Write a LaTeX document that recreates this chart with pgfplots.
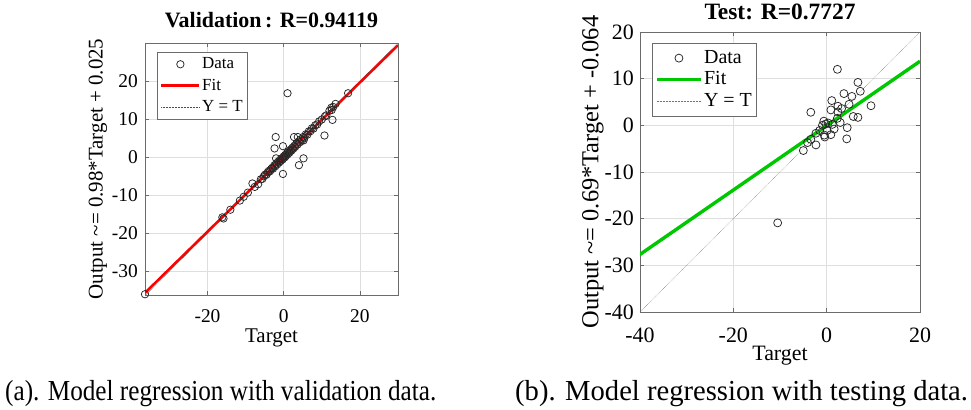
\documentclass[border=0pt]{standalone}
\usepackage{fontspec}
\setmainfont{Liberation Serif}
\usepackage{pgfplots}
\pgfplotsset{compat=1.18}

\definecolor{fitred}{rgb}{1,0,0}
\definecolor{fitgreen}{RGB}{0,200,0}
\definecolor{framegray}{gray}{0.42}

\pgfplotsset{
  regbox/.style={
    scale only axis,
    tick align=inside,
    major tick length=4bp,
    axis line style={framegray, line width=0.6bp},
    every tick/.style={framegray, line width=0.6bp},
    grid=major,
    grid style={black!13, line width=0.5bp},
    /pgf/number format/assume math mode=true,
    legend cell align=left,
    xticklabel style={anchor=base, inner sep=0pt},
    yticklabel style={anchor=east, inner sep=0pt},
  },
  markleg/.style={legend image code/.code={\draw[##1] plot coordinates {(#1,0bp)};}},
  lineleg/.style={legend image code/.code={\draw[##1] (0bp,0bp) -- (#1,0bp);}},
  datamarks/.style={only marks, mark=o, mark size=#1, mark options={line width=0.75bp, black!85}},
}

\begin{document}
\begin{tikzpicture}
\useasboundingbox (0,0) rectangle (971bp,410bp);

% (a) validation
\begin{axis}[regbox,
  at={(145bp,115bp)}, anchor=south west,
  width=253bp, height=252bp,
  xmin=-36.4, xmax=30, ymin=-36.2, ymax=30,
  xtick={-20,0,20}, ytick={-30,-20,-10,0,10,20},
  tick label style={font=\fontsize{19.5}{22}\selectfont},
  xticklabel style={yshift=-27bp},
  yticklabel style={xshift=-7bp},
  title={Validation\,: R=0.94119},
  title style={font=\bfseries\fontsize{22}{26}\selectfont, at={(0.5,1)}, anchor=base, yshift=10bp},
  xlabel={Target},
  xlabel style={font=\fontsize{21}{25}\selectfont, at={(axis description cs:0.5,-0.17)}, anchor=center},
  ylabel={Output \textasciitilde= 0.98*Target + 0.025},
  ylabel style={font=\fontsize{21}{25}\selectfont, at={(axis description cs:-0.186,0.5)}, anchor=center, rotate=0},
  legend style={at={(0.047,0.964)}, anchor=north west, draw=framegray, fill=white,
    font=\fontsize{17}{19}\selectfont, inner xsep=3bp, inner ysep=3bp,
    row sep=3.5bp, nodes={inner sep=1.5bp, text height=12bp, text depth=3bp}},
]
\addplot[datamarks=3.7bp, markleg=19bp] coordinates {
(-36.4,-36.0) (-16.1,-15.8) (-15.8,-16.1) (-14.0,-13.8) (-11.5,-11.4) (-10.5,-10.4)
(-9.4,-9.3) (-8.2,-6.9) (-7.6,-7.8) (-6.7,-7.1)
(-6.0,-5.8) (-5.6,-5.7) (-5.2,-5.0) (-4.9,-4.6) (-4.5,-4.6) (-4.2,-4.0) (-3.9,-3.6)
(-3.6,-3.7) (-3.3,-3.1) (-3.0,-2.8) (-2.8,-3.0) (-2.5,-2.2) (-2.2,-2.4) (-2.0,-1.7)
(-1.7,-1.9) (-1.5,-1.2) (-1.2,-1.4) (-1.0,-0.7) (-0.8,-1.0) (-0.5,-0.3) (-0.3,-0.6)
(0.0,0.2) (0.2,-0.1) (0.4,0.6) (0.6,0.3) (0.9,1.1) (1.1,0.8) (1.3,1.6) (1.5,1.2)
(1.8,2.0) (2.0,1.7) (2.3,2.5) (2.5,2.2) (2.8,3.0) (3.0,2.7) (3.3,3.5) (3.6,3.3)
(3.9,4.1) (4.2,3.9) (4.5,4.7) (4.8,4.4) (5.1,5.3) (5.4,5.0) (5.8,6.0) (6.2,5.9)
(6.6,6.8) (7.0,6.8) (7.4,7.6) (7.8,7.5) (8.3,8.4) (8.8,8.6) (9.3,9.4) (10.0,9.9)
(10.8,10.7) (11.2,11.0) (12.0,12.2) (12.6,12.4) (13.0,13.2) (13.6,14.0) (16.9,16.8)
(-2.1,5.3) (-2.4,2.3) (-0.2,2.9) (-0.2,-4.4) (4.0,-2.1) (5.2,-0.3) (1.0,16.8)
(2.7,5.3) (3.7,5.3) (10.7,5.7) (12.8,9.8) (12.5,13.0) (5.2,4.4) (-2.0,-0.3)
};
\addlegendentry{Data}
\addplot[fitred, line width=2.6bp, lineleg=38bp] coordinates {(-36.4,-35.647) (30,29.425)};
\addlegendentry{Fit}
\addplot[black!70, densely dotted, line width=0.5bp, lineleg=38bp] coordinates {(-36.4,-36.4) (30,30)};
\addlegendentry{Y = T}
\end{axis}

% (b) test
\begin{axis}[regbox,
  at={(640bp,98bp)}, anchor=south west,
  width=280bp, height=280bp,
  xmin=-40, xmax=20, ymin=-40, ymax=20,
  xtick={-40,-20,0,20}, ytick={-40,-30,-20,-10,0,10,20},
  tick label style={font=\fontsize{22}{26}\selectfont},
  xticklabel style={yshift=-31bp},
  yticklabel style={xshift=-6bp},
  title={Test: R=0.7727},
  title style={font=\bfseries\fontsize{23.5}{27}\selectfont, at={(0.5,1)}, anchor=base, yshift=7bp},
  xlabel={Target},
  xlabel style={font=\fontsize{22}{26}\selectfont, at={(axis description cs:0.5,-0.155)}, anchor=center},
  ylabel={Output \textasciitilde= 0.69*Target + -0.064},
  ylabel style={font=\fontsize{24.5}{28}\selectfont, at={(axis description cs:-0.168,0.5)}, anchor=center, rotate=0},
  legend style={at={(0.043,0.961)}, anchor=north west, draw=framegray, fill=white,
    font=\fontsize{20}{22}\selectfont, inner xsep=3bp, inner ysep=5bp,
    row sep=1.5bp, nodes={inner sep=1.5bp, text height=13.5bp, text depth=3.5bp}},
]
\addplot[datamarks=4bp, markleg=22bp] coordinates {
(-10.5,-20.9) (2.3,12.0) (6.7,9.2) (7.2,7.3) (3.7,6.8) (5.4,6.2) (1.1,5.3) (9.5,4.2)
(2.4,4.1) (4.8,4.5) (-3.4,2.8) (0.9,3.3) (2.4,2.9) (5.7,1.9) (6.7,1.7) (2.3,1.5)
(-0.6,0.9) (0.3,0.5) (2.9,0.6) (-0.9,0.0) (4.4,-0.5) (1.6,-0.8) (0.1,-1.1) (-1.5,-1.1)
(0.9,-2.0) (-0.5,-2.1) (-2.3,-1.7) (4.3,-2.9) (-3.4,-3.0) (-4.1,-3.7) (-2.3,-4.2)
(-5.0,-5.4) (-0.4,-2.5) (1.2,0.2) (-0.2,0.3) (3.2,3.6)
};
\addlegendentry{Data}
\addplot[fitgreen, line width=3.4bp, lineleg=44bp] coordinates {(-40,-27.664) (20,13.736)};
\addlegendentry{Fit}
\addplot[black!55, densely dotted, line width=0.5bp, lineleg=44bp] coordinates {(-40,-40) (20,20)};
\addlegendentry{Y = T}
\end{axis}

\node[anchor=base west, inner sep=0pt, font=\fontsize{25.3}{30}\selectfont] at (5bp,9.5bp) {\scalebox{1}[1.15]{(a). Model regression with validation data.}};
\node[anchor=base west, inner sep=0pt, font=\fontsize{25.3}{30}\selectfont] at (515bp,9.5bp) {\scalebox{1.135}[1.15]{(b). Model regression with testing data.}};
\end{tikzpicture}
\end{document}
